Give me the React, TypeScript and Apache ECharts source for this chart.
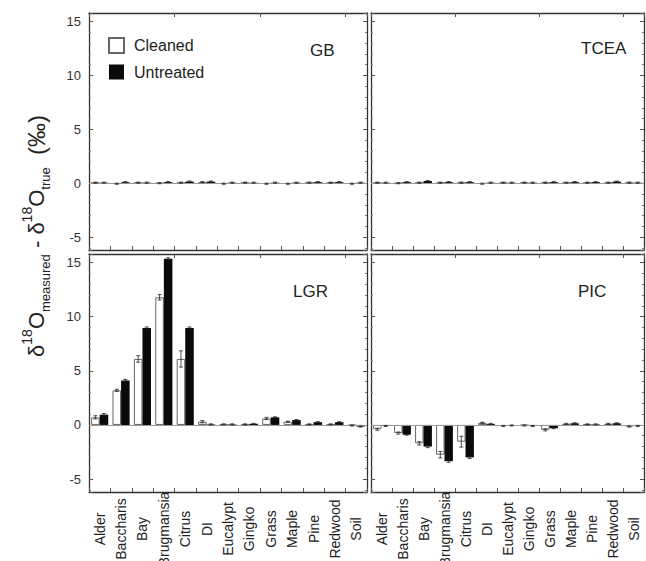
import React, { useEffect, useRef } from 'react';
import * as echarts from 'echarts';

const categories = ['Alder', 'Baccharis', 'Bay', 'Brugmansia', 'Citrus', 'DI', 'Eucalypt', 'Gingko', 'Grass', 'Maple', 'Pine', 'Redwood', 'Soil'];
const seriesNames = ['Cleaned', 'Untreated'];
const panelNames = ['GB', 'TCEA', 'LGR', 'PIC'];
const yMin = -6.2;
const yMax = 15.8;

const gbCleaned = [0.05, -0.05, 0.05, 0.0, 0.05, 0.1, -0.05, 0.05, -0.05, -0.05, 0.05, 0.05, -0.05];
const gbUntreated = [0.05, 0.1, 0.05, 0.1, 0.15, 0.15, 0.05, 0.05, 0.05, 0.05, 0.1, 0.1, 0.05];
const gbCleanedErr = [0.05, 0.05, 0.05, 0.05, 0.05, 0.05, 0.05, 0.05, 0.05, 0.05, 0.05, 0.05, 0.05];
const gbUntreatedErr = [0.05, 0.05, 0.05, 0.05, 0.05, 0.05, 0.05, 0.05, 0.05, 0.05, 0.05, 0.05, 0.05];

const tceaCleaned = [0.05, 0.0, 0.05, 0.05, 0.05, -0.05, 0.05, 0.05, 0.05, 0.05, 0.05, 0.05, 0.05];
const tceaUntreated = [0.05, 0.1, 0.2, 0.1, 0.1, 0.05, 0.05, 0.05, 0.1, 0.1, 0.1, 0.15, 0.05];
const tceaCleanedErr = [0.05, 0.05, 0.05, 0.05, 0.05, 0.05, 0.05, 0.05, 0.05, 0.05, 0.05, 0.05, 0.05];
const tceaUntreatedErr = [0.05, 0.05, 0.05, 0.05, 0.05, 0.05, 0.05, 0.05, 0.05, 0.05, 0.05, 0.05, 0.05];

const lgrCleaned = [0.7, 3.2, 6.1, 11.8, 6.1, 0.3, 0.05, 0.05, 0.6, 0.3, 0.05, 0.05, -0.05];
const lgrUntreated = [0.95, 4.1, 8.95, 15.35, 8.95, 0.05, 0.05, 0.1, 0.7, 0.45, 0.25, 0.25, -0.15];
const lgrCleanedErr = [0.15, 0.1, 0.3, 0.25, 0.75, 0.1, 0.05, 0.05, 0.1, 0.05, 0.05, 0.05, 0.05];
const lgrUntreatedErr = [0.1, 0.1, 0.1, 0.1, 0.1, 0.05, 0.05, 0.05, 0.05, 0.05, 0.05, 0.05, 0.05];

const picCleaned = [-0.4, -0.75, -1.7, -2.75, -1.55, 0.2, -0.1, -0.05, -0.45, 0.1, 0.05, 0.1, -0.15];
const picUntreated = [-0.1, -0.9, -2.0, -3.35, -3.0, 0.1, -0.05, -0.1, -0.3, 0.15, 0.05, 0.15, -0.1];
const picCleanedErr = [0.1, 0.1, 0.15, 0.3, 0.5, 0.05, 0.05, 0.05, 0.1, 0.05, 0.05, 0.05, 0.05];
const picUntreatedErr = [0.05, 0.05, 0.1, 0.1, 0.1, 0.05, 0.05, 0.05, 0.05, 0.05, 0.05, 0.05, 0.05];

const panelData = [
  { cleaned: gbCleaned, untreated: gbUntreated, cErr: gbCleanedErr, uErr: gbUntreatedErr },
  { cleaned: tceaCleaned, untreated: tceaUntreated, cErr: tceaCleanedErr, uErr: tceaUntreatedErr },
  { cleaned: lgrCleaned, untreated: lgrUntreated, cErr: lgrCleanedErr, uErr: lgrUntreatedErr },
  { cleaned: picCleaned, untreated: picUntreated, cErr: picCleanedErr, uErr: picUntreatedErr },
];

const FONT = 'Liberation Sans, Arial, Helvetica, sans-serif';
const AX = '#333';

const gridRects = [
  { left: 89, top: 13, width: 278, height: 237 },
  { left: 371, top: 13, width: 273, height: 237 },
  { left: 89, top: 254, width: 278, height: 238 },
  { left: 371, top: 254, width: 273, height: 238 },
];

const labelPos = [
  { x: 310, y: 50 },
  { x: 581, y: 48 },
  { x: 293, y: 291 },
  { x: 578, y: 291 },
];

function errSeries(g: number, vals: number[], errs: number[], side: number) {
  return {
    type: 'custom',
    xAxisIndex: g * 2,
    yAxisIndex: g * 2,
    z: 5,
    silent: true,
    data: vals.map((v, i) => [i, v, errs[i]]),
    renderItem: (params: any, api: any) => {
      const i = api.value(0);
      const v = api.value(1);
      const e = api.value(2);
      const c = api.coord([i, v]);
      const bw = api.size([1, 0])[0];
      const x = c[0] + side * 0.2 * bw;
      const y1 = api.coord([i, v + e])[1];
      const y2 = api.coord([i, v - e])[1];
      const cap = 2;
      const st = { stroke: '#222', lineWidth: 0.8 };
      return {
        type: 'group',
        children: [
          { type: 'line', shape: { x1: x, y1: y1, x2: x, y2: y2 }, style: st },
          { type: 'line', shape: { x1: x - cap, y1: y1, x2: x + cap, y2: y1 }, style: st },
          { type: 'line', shape: { x1: x - cap, y1: y2, x2: x + cap, y2: y2 }, style: st },
        ],
      };
    },
  };
}

export default function App() {
  const ref = useRef<HTMLDivElement>(null);
  useEffect(() => {
    if (!ref.current) return;
    const chart = echarts.init(ref.current, undefined, { renderer: 'svg' });
    const xAxis: any[] = [];
    const yAxis: any[] = [];
    const series: any[] = [];
    gridRects.forEach((_, g) => {
      const bottomRow = g >= 2;
      const leftCol = g % 2 === 0;
      const catBase = {
        type: 'category',
        gridIndex: g,
        data: categories,
        boundaryGap: true,
        axisLine: { show: true, onZero: false, lineStyle: { color: AX, width: 1.3 } },
        axisTick: { show: true, inside: true, length: 4, lineStyle: { color: '#555' } },
        splitLine: { show: false },
      };
      xAxis.push({
        ...catBase,
        position: 'bottom',
        axisLabel: {
          show: bottomRow,
          rotate: 90,
          align: 'center',
          verticalAlign: 'middle',
          margin: 37,
          interval: 0,
          hideOverlap: false,
          fontSize: 14,
          color: '#222',
          fontFamily: FONT,
        },
      });
      xAxis.push({ ...catBase, position: 'top', axisLabel: { show: false } });
      const valBase = {
        type: 'value',
        gridIndex: g,
        min: yMin,
        max: yMax,
        axisLine: { show: true, onZero: false, lineStyle: { color: AX, width: 1.3 } },
        axisTick: { show: true, inside: true, length: 4, lineStyle: { color: '#555' } },
        minorTick: { show: true, splitNumber: 5, length: 2, lineStyle: { color: '#777' } },
        splitLine: { show: false },
      };
      yAxis.push({
        ...valBase,
        position: 'left',
        axisLabel: {
          show: leftCol,
          showMinLabel: false,
          showMaxLabel: false,
          fontSize: 13,
          color: '#333',
          margin: 8,
          fontFamily: FONT,
          formatter: (v: number) => (Math.abs(v % 5) < 1e-9 ? String(v) : ''),
        },
      });
      yAxis.push({ ...valBase, position: 'right', axisLabel: { show: false } });

      const d = panelData[g];
      series.push({
        name: seriesNames[0],
        type: 'bar',
        xAxisIndex: g * 2,
        yAxisIndex: g * 2,
        data: d.cleaned,
        barWidth: '40%',
        barGap: '0%',
        itemStyle: { color: '#ffffff', borderColor: '#666', borderWidth: 1 },
        markLine: {
          silent: true,
          symbol: 'none',
          label: { show: false },
          lineStyle: { color: '#999', width: 1, type: 'solid' },
          data: [{ yAxis: 0 }],
        },
      });
      series.push({
        name: seriesNames[1],
        type: 'bar',
        xAxisIndex: g * 2,
        yAxisIndex: g * 2,
        data: d.untreated,
        barWidth: '40%',
        barGap: '0%',
        itemStyle: { color: '#0a0a0a' },
      });
      series.push(errSeries(g, d.cleaned, d.cErr, -1));
      series.push(errSeries(g, d.untreated, d.uErr, 1));
    });

    const graphic: any[] = panelNames.map((n, g) => ({
      type: 'text',
      x: labelPos[g].x,
      y: labelPos[g].y,
      style: { text: n, fontSize: 17, fill: '#222', fontFamily: FONT, align: 'left', verticalAlign: 'middle' },
    }));
    graphic.push({
      type: 'text',
      x: 36,
      y: 236,
      rotation: Math.PI / 2,
      style: {
        text: '{m|δ}{sup|18}{m|O}{sub|measured}{m| - δ}{sup|18}{m|O}{sub|true}{m|  }{p|(‰)}',
        align: 'center',
        verticalAlign: 'middle',
        fill: '#222',
        fontFamily: FONT,
        rich: {
          m: { fontSize: 22, lineHeight: 32, fontFamily: FONT, fill: '#222' },
          p: { fontSize: 24, lineHeight: 32, fontFamily: FONT, fill: '#222' },
          sup: { fontSize: 14, lineHeight: 14, verticalAlign: 'top', fontFamily: FONT, fill: '#222' },
          sub: { fontSize: 13, lineHeight: 13, verticalAlign: 'bottom', fontFamily: FONT, fill: '#222' },
        },
      },
    });

    chart.setOption({
      animation: false,
      backgroundColor: '#ffffff',
      grid: gridRects.map((r) => ({ ...r, containLabel: false, outerBoundsMode: 'none', show: false })),
      legend: {
        data: seriesNames,
        orient: 'vertical',
        left: 108,
        top: 37,
        padding: 0,
        itemWidth: 15,
        itemHeight: 15,
        itemGap: 10,
        icon: 'rect',
        textStyle: { fontSize: 16, color: '#222', fontFamily: FONT, lineHeight: 15, padding: [0, 0, 0, 5] },
      },
      xAxis,
      yAxis,
      series,
      graphic,
    });
    return () => chart.dispose();
  }, []);
  return <div ref={ref} style={{ position: 'absolute', left: 0, top: 0, width: 646, height: 561 }} />;
}
